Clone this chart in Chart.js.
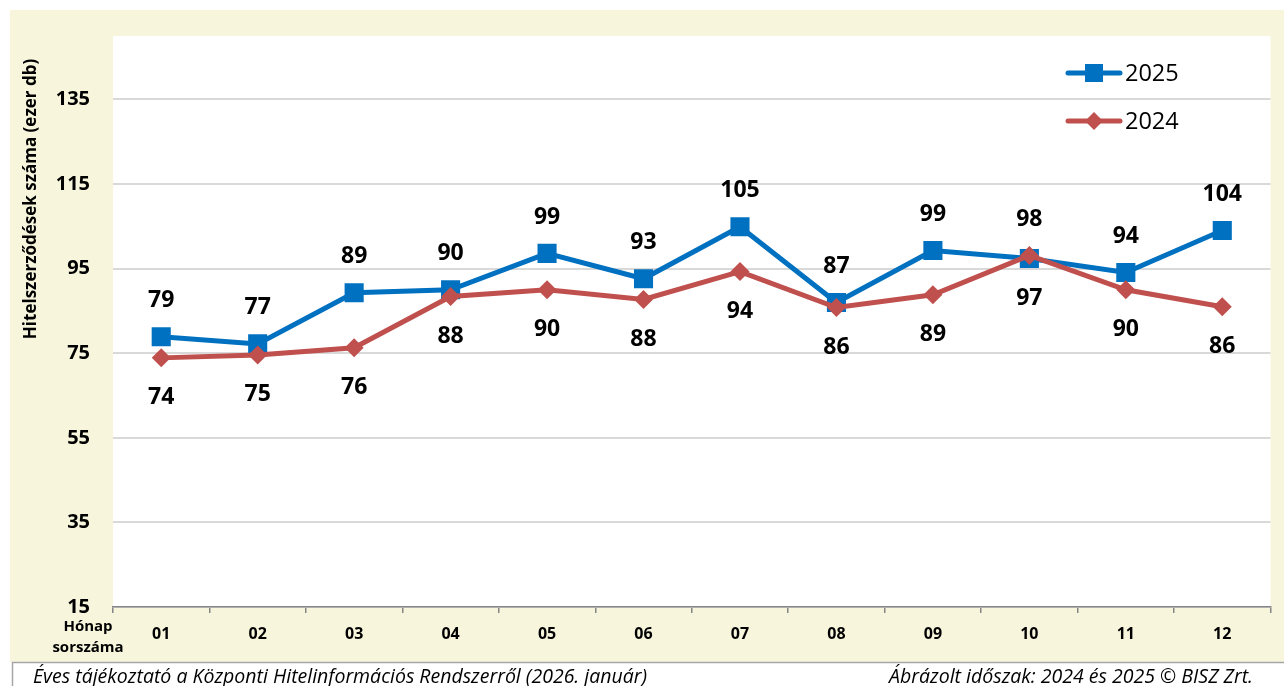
<!DOCTYPE html>
<html>
<head>
<meta charset="utf-8">
<script src="https://cdn.jsdelivr.net/npm/chart.js@4/dist/chart.umd.min.js"></script>
<style>
  body { margin: 0; background: #fff; }
  #wrap { width: 1284px; height: 686px; }
</style>
</head>
<body>
<div id="wrap"><canvas id="myChart" width="1284" height="686"></canvas></div>
<script>
var months = ['01', '02', '03', '04', '05', '06', '07', '08', '09', '10', '11', '12'];
var values2025 = [78.9, 77.2, 89.3, 90.0, 98.6, 92.6, 104.9, 87.0, 99.3, 97.4, 94.1, 104.0];
var values2024 = [73.9, 74.6, 76.3, 88.4, 90.0, 87.7, 94.3, 85.8, 88.8, 98.1, 90.0, 86.0];
var yTicks = [15, 35, 55, 75, 95, 115, 135];

var BLUE = '#0070C0';
var RED = '#C0504D';
var BEIGE = '#F7F5DC';
var FONT = '"Open Sans", "Noto Sans", sans-serif';

// background, legend, labels, footer
var decor = {
    id: 'decor',
    beforeDraw: function (chart) {
        var ctx = chart.ctx;
        var a = chart.chartArea;
        ctx.save();
        ctx.fillStyle = '#fff';
        ctx.fillRect(0, 0, chart.width, chart.height);
        ctx.fillStyle = BEIGE;
        ctx.fillRect(10, 10, chart.width - 10, 652);
        ctx.fillStyle = '#fff';
        ctx.fillRect(a.left, a.top, a.right - a.left, a.bottom - a.top);
        ctx.restore();
    },
    afterDatasetsDraw: function (chart) {
        var ctx = chart.ctx;
        var m25 = chart.getDatasetMeta(0).data;
        var m24 = chart.getDatasetMeta(1).data;
        ctx.save();
        ctx.font = 'bold 23px ' + FONT;
        ctx.fillStyle = '#000';
        ctx.textAlign = 'center';
        ctx.textBaseline = 'middle';
        for (var i = 0; i < months.length; i++) {
            var up = values2025[i] >= values2024[i];
            var hi = up ? m25[i] : m24[i];
            var lo = up ? m24[i] : m25[i];
            var hiV = up ? values2025[i] : values2024[i];
            var loV = up ? values2024[i] : values2025[i];
            ctx.fillText(Math.round(hiV), hi.x, hi.y - 36);
            ctx.fillText(Math.round(loV), lo.x, lo.y + 40);
        }
        ctx.restore();
    },
    afterDraw: function (chart) {
        var ctx = chart.ctx;
        ctx.save();

        // y title
        ctx.translate(31, 199);
        ctx.rotate(-Math.PI / 2);
        ctx.font = 'bold 17px ' + FONT;
        ctx.fillStyle = '#000';
        ctx.textAlign = 'center';
        ctx.textBaseline = 'middle';
        ctx.fillText('Hitelszerződések száma (ezer db)', 0, 0);
        ctx.setTransform(1, 0, 0, 1, 0, 0);

        // x title
        ctx.font = 'bold 15px ' + FONT;
        ctx.fillText('Hónap', 88, 627);
        ctx.fillText('sorszáma', 88, 648);

        // legend
        var items = [
            { label: '2025', color: BLUE, y: 73, shape: 'rect' },
            { label: '2024', color: RED, y: 121, shape: 'diamond' }
        ];
        items.forEach(function (it) {
            ctx.strokeStyle = it.color;
            ctx.fillStyle = it.color;
            ctx.lineWidth = 5;
            ctx.lineCap = 'round';
            ctx.beginPath();
            ctx.moveTo(1068, it.y);
            ctx.lineTo(1120, it.y);
            ctx.stroke();
            if (it.shape == 'rect') {
                ctx.fillRect(1085, it.y - 9, 18, 18);
            } else {
                ctx.beginPath();
                ctx.moveTo(1094, it.y - 9);
                ctx.lineTo(1103, it.y);
                ctx.lineTo(1094, it.y + 9);
                ctx.lineTo(1085, it.y);
                ctx.closePath();
                ctx.fill();
            }
            ctx.fillStyle = '#000';
            ctx.font = '23.5px ' + FONT;
            ctx.textAlign = 'left';
            ctx.fillText(it.label, 1125, it.y + 1);
        });

        // footer
        ctx.fillStyle = '#fff';
        ctx.fillRect(12, 662, chart.width - 12, 24);
        ctx.strokeStyle = '#A6A6A6';
        ctx.lineWidth = 1.5;
        ctx.beginPath();
        ctx.moveTo(12.5, 686);
        ctx.lineTo(12.5, 662.5);
        ctx.lineTo(chart.width, 662.5);
        ctx.stroke();
        ctx.fillStyle = '#000';
        ctx.font = 'italic 19.5px ' + FONT;
        ctx.textBaseline = 'middle';
        ctx.textAlign = 'left';
        ctx.fillText('Éves tájékoztató a Központi Hitelinformációs Rendszerről (2026. január)', 33, 677);
        ctx.textAlign = 'right';
        ctx.fillText('Ábrázolt időszak: 2024 és 2025 © BISZ Zrt.', 1253, 677);
        ctx.restore();
    }
};

var ctx = document.getElementById('myChart').getContext('2d');
new Chart(ctx, {
    type: 'line',
    data: {
        labels: months,
        datasets: [{
            label: '2025',
            data: values2025,
            borderColor: BLUE,
            backgroundColor: BLUE,
            borderWidth: 5,
            pointStyle: 'rect',
            pointRadius: 13.5,
            pointHoverRadius: 13.5,
            pointBorderWidth: 0,
            tension: 0,
            order: 2
        }, {
            label: '2024',
            data: values2024,
            borderColor: RED,
            backgroundColor: RED,
            borderWidth: 5,
            pointStyle: 'rectRot',
            pointRadius: 9.5,
            pointHoverRadius: 9.5,
            pointBorderWidth: 0,
            tension: 0,
            order: 1
        }]
    },
    options: {
        responsive: false,
        animation: false,
        devicePixelRatio: 1,
        layout: { padding: { top: 36, right: 11, left: 0, bottom: 0 } },
        plugins: {
            legend: { display: false },
            tooltip: { enabled: false }
        },
        scales: {
            x: {
                offset: true,
                grid: {
                    offset: true,
                    drawOnChartArea: false,
                    drawTicks: true,
                    tickLength: 6,
                    color: '#868686',
                    lineWidth: 1.5
                },
                border: { display: true, color: '#868686', width: 1.5 },
                ticks: {
                    color: '#000',
                    padding: 12,
                    font: { family: FONT, size: 16, weight: 'bold' }
                },
                afterFit: function (scale) { scale.height = 79; }
            },
            y: {
                min: 15,
                max: 150,
                afterBuildTicks: function (scale) {
                    scale.ticks = yTicks.map(function (v) { return { value: v }; });
                },
                grid: { color: '#D9D9D9', lineWidth: 2, drawTicks: false },
                border: { display: false },
                ticks: {
                    color: '#000',
                    padding: 23,
                    font: { family: FONT, size: 20, weight: 'bold' }
                },
                afterFit: function (scale) { scale.width = 113; }
            }
        }
    },
    plugins: [decor]
});
</script>
</body>
</html>
